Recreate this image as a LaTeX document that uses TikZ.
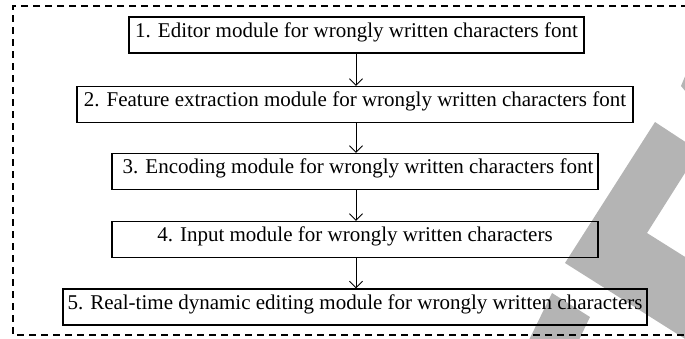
\documentclass[tikz,border=0pt]{standalone}
\usepackage{fontspec}
\setmainfont{Liberation Serif}
\usetikzlibrary{arrows.meta}
\definecolor{wmgray}{RGB}{180,180,180}
\tikzset{
  modbox/.style={draw, line width=1.4pt, inner sep=0pt, minimum height=36pt,
    text height=0.69em, text depth=0.22em, font=\fontsize{21}{25}\selectfont, anchor=center},
  flow/.style={draw, line width=0.9pt, -{Straight Barb[length=6.5pt,width=13pt,line width=0.9pt]}},
  frame/.style={draw, line width=1.2pt, dash pattern=on 7pt off 5pt},
  wm/.style={fill=wmgray, draw=none}
}
\begin{document}
\begin{tikzpicture}[x=1pt,y=-1pt]
\useasboundingbox (0,0) rectangle (685,338);
\clip (0,0) rectangle (685,338);
% background watermark shapes
\path[wm] (565,263) -- (655,122) -- (690,145) -- (690,165) -- (647,233) -- (690,260) -- (690,342) -- cycle;
\path[wm] (528,342) -- (552,293) -- (590,317) -- (578,342) -- cycle;
\path[wm] (681,86) -- (686,74) -- (686,92) -- cycle;
% dashed frame (open on the right)
\coordinate (fr1) at (700,6);
\coordinate (fr2) at (13,6);
\coordinate (fr3) at (13,335);
\coordinate (fr4) at (700,335);
\path[frame] (fr1) -- (fr2) -- (fr3) -- (fr4);
% modules
\node[modbox, minimum width=455pt] (b1) at (356.5,35) {1. Editor module for wrongly written characters font};
\node[modbox, minimum width=556pt] (b2) at (355,104.5) {2. Feature extraction module for wrongly written characters font};
\node[modbox, minimum width=486pt] (b3) at (355,171.5) {\hspace*{6pt}3. Encoding module for wrongly written characters font};
\node[modbox, minimum width=486pt] (b4) at (355,239.5) {4. Input module for wrongly written characters};
\node[modbox, minimum width=584pt] (b5) at (355,307) {5. Real-time dynamic editing module for wrongly written characters};
% connectors
\coordinate (a1) at (356,0);
\path[flow] (b1.south -| a1) -- (b2.north -| a1);
\path[flow] (b2.south -| a1) -- (b3.north -| a1);
\path[flow] (b3.south -| a1) -- (b4.north -| a1);
\path[flow] (b4.south -| a1) -- (b5.north -| a1);
\end{tikzpicture}
\end{document}
